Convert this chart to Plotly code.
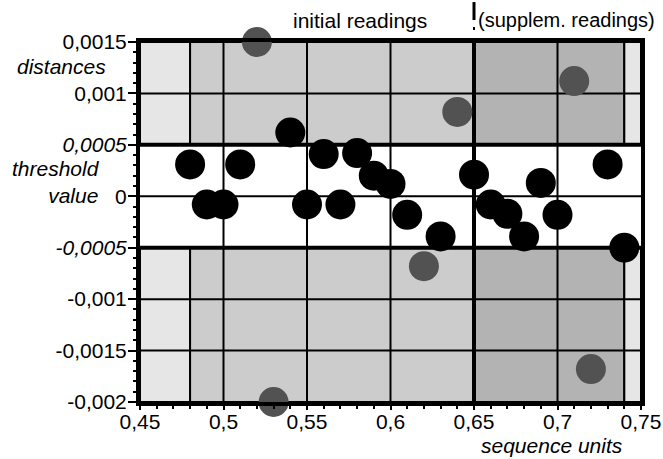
import plotly.graph_objects as go

# ---------------- data ----------------
main_x = [0.48, 0.49, 0.50, 0.51, 0.54, 0.55, 0.56, 0.57, 0.58, 0.59, 0.60,
          0.61, 0.63, 0.65, 0.66, 0.67, 0.68, 0.69, 0.70, 0.73, 0.74]
main_y = [0.00031, -0.00008, -0.00008, 0.00031, 0.00062, -0.00008, 0.00041,
          -0.00008, 0.00042, 0.00020, 0.00012, -0.00018, -0.00039, 0.00021,
          -0.00008, -0.00017, -0.00039, 0.00013, -0.00018, 0.00031, -0.00050]

outlier_x = [0.52, 0.53, 0.62, 0.64, 0.71, 0.72]
outlier_y = [0.0015, -0.002, -0.00068, 0.00082, 0.00112, -0.00168]

x_tickvals = [0.45, 0.50, 0.55, 0.60, 0.65, 0.70, 0.75]
x_ticktext = ["0,45", "0,5", "0,55", "0,6", "0,65", "0,7", "0,75"]
y_tickvals = [0.0015, 0.001, 0.0005, 0, -0.0005, -0.001, -0.0015, -0.002]
y_ticktext = ["0,0015", "0,001", "<i>0,0005</i>", "0", "<i>-0,0005</i>",
              "-0,001", "-0,0015", "-0,002"]

x_min, x_max = 0.45, 0.75
y_min, y_max = -0.002, 0.0015
threshold = 0.0005
zone_edges = [0.45, 0.48, 0.65, 0.74, 0.75]
zone_colors = ["#e6e6e6", "#cccccc", "#b3b3b3", "#e6e6e6"]
split_x = 0.65

FONT = "Liberation Sans, Arial, sans-serif"
FS = 21

fig = go.Figure()

fig.add_trace(go.Scatter(
    x=main_x, y=main_y, mode="markers",
    marker=dict(size=30, color="#000000", line=dict(width=0)),
    cliponaxis=False, showlegend=False))
fig.add_trace(go.Scatter(
    x=outlier_x, y=outlier_y, mode="markers",
    marker=dict(size=30, color="#525252", line=dict(width=0)),
    cliponaxis=False, showlegend=False))

shapes = []
# shaded zones above and below the threshold band
for (a, b), col in zip(zip(zone_edges[:-1], zone_edges[1:]), zone_colors):
    for y0, y1 in [(threshold, y_max), (y_min, -threshold)]:
        shapes.append(dict(type="rect", xref="x", yref="y", x0=a, x1=b, y0=y0, y1=y1,
                           fillcolor=col, line=dict(color="black", width=2), layer="below"))
# vertical grid lines at major ticks
for xv in x_tickvals[1:-1]:
    shapes.append(dict(type="line", xref="x", yref="y", x0=xv, x1=xv, y0=y_min, y1=y_max,
                       line=dict(color="black", width=2), layer="below"))
# horizontal grid lines
for yv in y_tickvals[1:-1]:
    w = 4 if abs(abs(yv) - threshold) < 1e-12 else 2
    shapes.append(dict(type="line", xref="x", yref="y", x0=x_min, x1=x_max, y0=yv, y1=yv,
                       line=dict(color="black", width=w), layer="below"))
# thick split line
shapes.append(dict(type="line", xref="x", yref="y", x0=split_x, x1=split_x, y0=y_min, y1=y_max,
                   line=dict(color="black", width=4), layer="below"))
# marker above the plot at the split
shapes.append(dict(type="line", xref="x", yref="paper", x0=split_x, x1=split_x, y0=1.061, y1=1.111,
                   line=dict(color="black", width=3)))
shapes.append(dict(type="line", xref="x", yref="paper", x0=split_x, x1=split_x, y0=1.033, y1=1.042,
                   line=dict(color="black", width=2)))

annotations = [
    dict(text="initial readings", xref="paper", yref="paper", x=0.439, y=1.061,
         showarrow=False, xanchor="center", yanchor="middle", font=dict(size=FS)),
    dict(text="(supplem. readings)", xref="paper", yref="paper", x=0.670, y=1.061,
         showarrow=False, xanchor="left", yanchor="middle", font=dict(size=20)),
    dict(text="<i>distances</i>", xref="paper", yref="paper", x=-0.064, y=0.933,
         showarrow=False, xanchor="right", yanchor="middle", font=dict(size=FS)),
    dict(text="<i>threshold<br>value</i>", xref="paper", yref="paper", x=-0.076, y=0.611,
         showarrow=False, xanchor="right", yanchor="middle", align="right", font=dict(size=FS)),
    dict(text="<i>sequence units</i>", xref="paper", yref="paper", x=0.822, y=-0.122,
         showarrow=False, xanchor="center", yanchor="middle", font=dict(size=FS)),
]

fig.update_layout(
    width=663, height=459, autosize=False,
    margin=dict(l=140, r=22, t=42, b=57),
    paper_bgcolor="white", plot_bgcolor="white",
    font=dict(family=FONT, size=FS, color="black"),
    shapes=shapes, annotations=annotations,
    xaxis=dict(range=[x_min, x_max], tickvals=x_tickvals, ticktext=x_ticktext,
               automargin=False, ticklabelstandoff=-6,
               showgrid=False, zeroline=False, showline=True, linecolor="black", linewidth=4,
               mirror=True, ticks="outside", ticklen=4, tickwidth=2, tickcolor="black",
               minor=dict(dtick=0.01, tick0=0.45, ticks="outside", ticklen=3, tickwidth=2,
                          tickcolor="black", showgrid=False)),
    yaxis=dict(range=[y_min, y_max], tickvals=y_tickvals, ticktext=y_ticktext,
               automargin=False, ticklabelstandoff=-3,
               showgrid=False, zeroline=False, showline=True, linecolor="black", linewidth=4,
               mirror=True, ticks="outside", ticklen=8, tickwidth=2, tickcolor="black",
               minor=dict(dtick=0.0001, tick0=0, ticks="outside", ticklen=3, tickwidth=2,
                          tickcolor="black", showgrid=False)),
)

fig.write_html(
    "out.html",
    config={"responsive": False, "displayModeBar": False},
    post_script="document.body.style.margin='0px';document.body.style.padding='0px';"
                "document.body.style.overflow='hidden';",
)
